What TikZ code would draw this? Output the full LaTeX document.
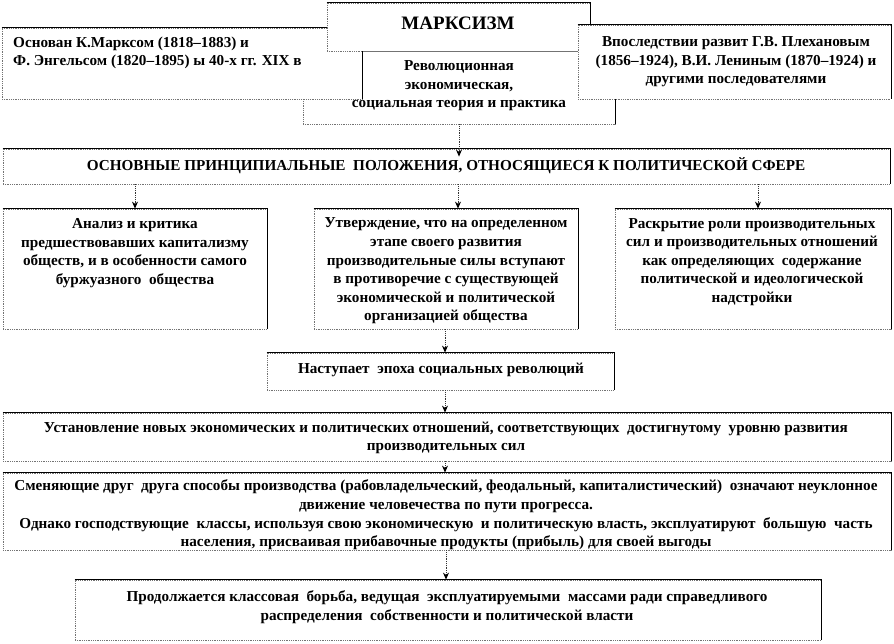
\documentclass[tikz,border=0pt]{standalone}
\usepackage{fontspec}
\setmainfont{Liberation Serif}
\usetikzlibrary{arrows.meta}
\newcommand\mybox[5]{%
  \node[box, minimum width={#4-#2}, minimum height={#5-#3}] (#1) at ({(#2+#4)/2},{(#3+#5)/2}) {};
  \draw[edge3d] (#1.north west) -- (#1.north east) -- (#1.south east);}
\begin{document}
\begin{tikzpicture}[x=1pt,y=-1pt,
  box/.style={draw=black!55, densely dotted, line width=0.8pt, fill=white, inner sep=0pt},
  edge3d/.style={draw=black, solid, line width=1.1pt},
  txt/.style={font=\bfseries\fontsize{15.2}{18.6}\selectfont, align=center, inner sep=0pt},
  arr/.style={draw=black!80, densely dotted, line width=0.8pt, -{Stealth[length=7pt,width=6pt,black]}}
]
\useasboundingbox (0,0) rectangle (894,644);
\fill[white] (0,0) rectangle (894,644);

% top group
\mybox{rev}{303}{51}{615}{124}
\mybox{found}{2}{28}{362}{99}
\mybox{marx}{327}{3}{590}{51}
\mybox{later}{578}{25}{891}{99}

\node[txt, font=\bfseries\fontsize{19}{21}\selectfont] (tmarx) at (458,23) {МАРКСИЗМ};
\node[txt, align=left, anchor=west] (tfound) at (13,53) {Основан К.Марксом (1818–1883) и\\Ф. Энгельсом (1820–1895) ы 40-х гг. XIX в};
\node[txt] (trev) at (459,86) {Революционная\\экономическая,\\социальная теория и практика};
\node[txt] (tlater) at (736,62) {Впоследствии развит Г.В. Плехановым\\(1856–1924), В.И. Лениным (1870–1924) и\\другими последователями};

% principles
\mybox{osn}{3}{149}{890}{184}
\node[txt] (tosn) at (446,166) {ОСНОВНЫЕ ПРИНЦИПИАЛЬНЫЕ \ ПОЛОЖЕНИЯ, ОТНОСЯЩИЕСЯ К ПОЛИТИЧЕСКОЙ СФЕРЕ};

\mybox{ana}{3}{209}{267}{329}
\mybox{utv}{314}{209}{578}{329}
\mybox{ras}{615}{209}{891}{329}
\node[txt] (tana) at (135,253) {Анализ и критика\\предшествовавших капитализму\\обществ, и в особенности самого\\буржуазного \ общества};
\node[txt] (tutv) at (446,271) {Утверждение, что на определенном\\этапе своего развития\\производительные силы вступают\\в противоречие с существующей\\экономической и политической\\организацией общества};
\node[txt] (tras) at (752,262) {Раскрытие роли производительных\\сил и производительных отношений\\как определяющих \ содержание\\политической и идеологической\\надстройки};

\mybox{nast}{267}{353}{614}{390}
\node[txt] (tnast) at (441,370) {Наступает \ эпоха социальных революций};

\mybox{ust}{3}{413}{891}{461}
\node[txt] (tust) at (446,438) {Установление новых экономических и политических отношений, соответствующих \ достигнутому \ уровню развития\\производительных сил};

\mybox{smen}{3}{473}{891}{550}
\node[txt] (tsmen) at (446,515) {Сменяющие друг \ друга способы производства (рабовладельческий, феодальный, капиталистический) \ означают неуклонное\\движение человечества по пути прогресса.\\Однако господствующие \ классы, используя свою экономическую \ и политическую власть, эксплуатируют \ большую \ часть\\населения, присваивая прибавочные продукты (прибыль) для своей выгоды};

\mybox{bor}{75}{580}{821}{640}
\node[txt] (tbor) at (447,607) {Продолжается классовая \ борьба, ведущая \ эксплуатируемыми \ массами ради справедливого\\распределения \ собственности и политической власти};

% connectors
\draw[arr, shorten >=-8pt] (rev.south -| 459,0) -- (osn.north -| 459,0);
\draw[arr] (osn.south -| 135,0) -- (ana.north -| 135,0);
\draw[arr] (osn.south -| 458,0) -- (utv.north -| 458,0);
\draw[arr] (osn.south -| 758,0) -- (ras.north -| 758,0);
\draw[arr] (utv.south -| 445,0) -- (nast.north -| 445,0);
\draw[arr] (nast.south -| 445,0) -- (ust.north -| 445,0);
\draw[arr] (ust.south -| 445,0) -- (smen.north -| 445,0);
\draw[arr] (smen.south -| 446,0) -- (bor.north -| 446,0);
\end{tikzpicture}
\end{document}
